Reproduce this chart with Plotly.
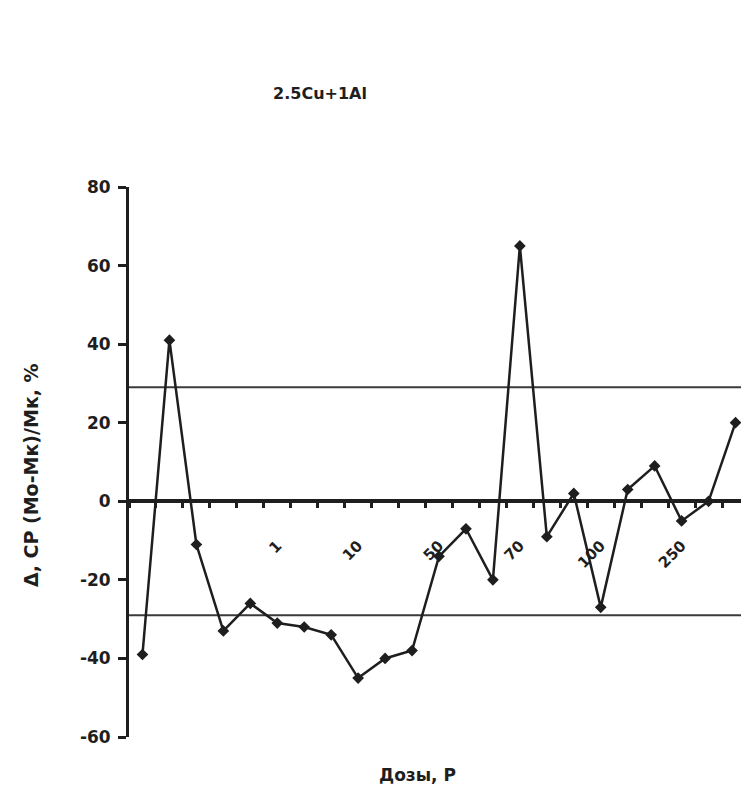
import plotly.graph_objects as go

# ---- data ----
point_ids = [str(i) for i in range(1, 24)]
dose_labels = ["", "", "", "", "", "1", "", "", "10", "", "", "50", "", "",
               "70", "", "", "100", "", "", "250", "", ""]
delta_cp = [-39, 41, -11, -33, -26, -31, -32, -34, -45, -40, -38, -14, -7, -20,
            65, -9, 2, -27, 3, 9, -5, 0, 20]
limit_upper = 29
limit_lower = -29
y_min, y_max = -60, 80
y_ticks = [-60, -40, -20, 0, 20, 40, 60, 80]
y_tick_text = [str(v) for v in y_ticks]

FONT = "DejaVu Sans, Liberation Sans, Arial, sans-serif"
INK = "#1e1e1e"

# page body has an 8px margin, so the figure is offset by 8px
OFF = 8
W, H = 741, 798
L, T = 121, 179
PLOT_W, PLOT_H = W - L, 550

fig = go.Figure()
fig.add_trace(go.Scatter(
    x=point_ids, y=delta_cp, mode="lines+markers",
    line=dict(color=INK, width=2.5),
    marker=dict(symbol="diamond", size=9, color=INK),
    showlegend=False,
))

for lim in (limit_upper, limit_lower):
    fig.add_shape(type="line", xref="paper", x0=0, x1=1, yref="y", y0=lim, y1=lim,
                  line=dict(color="#3a3a3a", width=2), layer="below")

zero_pos = (0 - y_min) / (y_max - y_min)


def px_x(x):
    return (x - OFF - L) / PLOT_W


def px_y(y):
    return 1 - (y - OFF - T) / PLOT_H


fig.update_layout(
    width=W, height=H,
    margin=dict(l=L, r=0, t=T, b=H - T - PLOT_H, autoexpand=False),
    paper_bgcolor="white", plot_bgcolor="white",
    font=dict(family=FONT, color=INK),
    title=dict(text="2.5Cu+1Al", x=(320 - OFF) / W, xref="container", xanchor="center",
               y=1 - (93 - OFF) / H, yref="container", yanchor="middle",
               font=dict(size=16, weight="bold", color=INK)),
    xaxis=dict(
        type="category", range=[-0.5, 22.5],
        tickvals=point_ids, ticktext=dose_labels, tickson="boundaries",
        anchor="free", position=zero_pos,
        showline=True, linecolor=INK, linewidth=3.5,
        ticks="outside", ticklen=5, tickwidth=3, tickcolor=INK,
        tickangle=-45, ticklabelstandoff=28,
        tickfont=dict(size=15, weight="bold", color=INK),
        showgrid=False, zeroline=False,
    ),
    yaxis=dict(
        range=[y_min, y_max], tickvals=y_ticks, ticktext=y_tick_text,
        showline=True, linecolor=INK, linewidth=3,
        ticks="outside", ticklen=8, tickwidth=3, tickcolor=INK,
        ticklabelstandoff=4,
        tickfont=dict(size=17, weight="bold", color=INK),
        showgrid=False, zeroline=False,
    ),
    annotations=[
        dict(text="Дозы, Р", xref="paper", yref="paper",
             x=px_x(417), y=px_y(775),
             xanchor="center", yanchor="middle", showarrow=False,
             font=dict(size=17, weight="bold", color=INK)),
        dict(text="Δ, СР (Мо-Мк)/Мк, %", xref="paper", yref="paper",
             x=px_x(31), y=px_y(475), textangle=-90,
             xanchor="center", yanchor="middle", showarrow=False,
             font=dict(size=19, weight="bold", color=INK)),
    ],
)

fig.write_html("out.html")
